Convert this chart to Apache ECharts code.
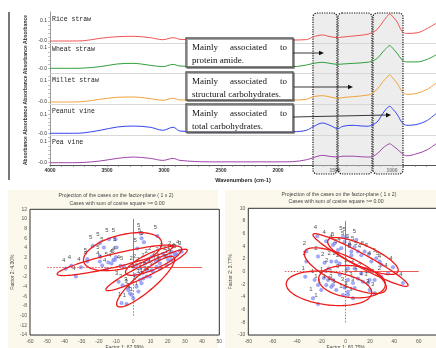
<!DOCTYPE html>
<html><head><meta charset="utf-8">
<script src="https://cdn.jsdelivr.net/npm/echarts@6/dist/echarts.min.js"></script>
<style>html,body{margin:0;padding:0;background:#fff}#c{width:436px;height:348px}</style>
</head><body><div id="c"></div>
<script>
// ---------- FTIR spectra ----------
const wavenumbers = [4000,3800,3710,3560,3410,3270,3120,3010,2920,2860,2600,2000,1870,1750,1690,1610,1545,1475,1430,1340,1280,1220,1190,1130,1080,1050,1020,990,955,910,870,780,690,614];
const rice   = [0,0,0.001,0.0135,0.0215,0.0235,0.0165,0.0065,0.0165,0.0085,0.005,0.005,0.005,0.007,0.021,0.03,0.022,0.017,0.02,0.025,0.028,0.033,0.038,0.058,0.096,0.118,0.135,0.12,0.095,0.047,0.038,0.041,0.063,0.088];
const wheat  = [0,0,0.001,0.008,0.021,0.024,0.0145,0.008,0.019,0.011,0.008,0.008,0.008,0.016,0.024,0.029,0.024,0.019,0.021,0.024,0.026,0.029,0.032,0.048,0.08,0.097,0.11,0.095,0.073,0.04,0.031,0.031,0.044,0.065];
const millet = [0,0,0.002,0.0127,0.022,0.0235,0.0155,0.008,0.0174,0.0094,0.0094,0.0094,0.0094,0.0127,0.025,0.0296,0.024,0.0174,0.021,0.025,0.028,0.032,0.036,0.06,0.095,0.112,0.127,0.11,0.088,0.048,0.036,0.041,0.06,0.088];
const peanut = [0,0,0.002,0.0158,0.033,0.038,0.0316,0.0158,0.0316,0.012,0.0068,0.0068,0.008,0.0158,0.035,0.054,0.042,0.0247,0.037,0.042,0.039,0.037,0.04,0.06,0.105,0.128,0.142,0.125,0.1,0.055,0.042,0.047,0.068,0.104];
const pea    = [0,0,0.001,0.008,0.0205,0.027,0.0205,0.011,0.0205,0.011,0.004,0.004,0.005,0.014,0.024,0.035,0.03,0.027,0.031,0.031,0.0286,0.027,0.027,0.043,0.07,0.082,0.09,0.08,0.065,0.043,0.033,0.043,0.062,0.09];
const sampleNames = ['Rice straw','Wheat straw','Millet straw','Peanut vine','Pea vine'];
const spectraColors = ['#f05454','#2f9e3a','#f2a23a','#3444f0','#a045a8'];
const wavenumberTicks = [4000,3500,3000,2500,2000,1500,1000];
const absorbanceTicks = [0, 0.1];
const notes = [['Mainly','associated','to','protein amide.'],['Mainly','associated','to','structural carbohydrates.'],['Mainly','associated','to','total carbohydrates.']];

// ---------- PCA scatter (left) ----------
const left1 = [[-6.8,-7.4],[-3.9,-7.6],[0,-6.4],[-1,-5.7],[1.9,-4],[4.8,-3.3],[5.8,-2.3],[9.7,-1.9],[10.7,-0.6],[13.6,0.1],[15.5,0.8],[20.3,1.5],[21.7,2.3],[3,-5]];
const left2 = [[0,0.1],[1.9,0.5],[3.9,-0.2],[6.8,0.8],[8.7,1.5],[10.7,2.2],[13.2,1.2],[15.1,1.9],[17.4,2.8],[19.4,2.2],[22.3,3.2],[24.2,2.6],[7.8,-0.6],[5.4,-1.2]];
const left3 = [[-8.5,-3.0],[-6.2,-3.7],[-3.1,-4.3],[-1.9,-5.4],[-2.9,-4.7],[3.9,-2.6],[7.8,-1.9],[11.6,-0.9],[15.5,-0.2],[19.4,0.5],[22.3,1.5],[25.2,2.6],[28.1,3.2],[1,-1.6]];
const left4 = [[-39.3,-0.3],[-36,0.3],[-33.3,-1.9],[-30.4,0],[-26.7,1.2],[-19.4,1.2],[-18,0.4],[-15.5,-0.4],[-12.6,0.8],[-11.6,1.5],[-10.1,2.1],[-7.4,0.3],[27,3.4],[24.5,2.8]];
const left5 = [[-23.6,4.4],[-19.4,5.0],[-17.1,4.1],[-14.1,5.8],[-10.3,5.8],[-9.7,4.1],[4.3,7.0],[4.8,6.0],[6.2,5.2],[14,6.5],[2.3,3.9],[-19.4,2.3],[-26.7,1.7],[-14.5,1.0],[-10.7,1.5],[-5.5,0.2]];
// ellipse: [cx, cy, ax, ay, bx, by]
const leftEllipses = [[-6.2,3.24,22.6,2.07,-2.42,3.34],[-10.5,1.45,33.7,2.86,-0.9,1.34],[7.75,-0.55,23.6,4.14,-1.5,1.11],[7.2,-2.97,16.5,5.03,-3.53,1.47],[11.8,1.38,16.2,2.59,-1.99,1.57]];
const leftCross = [-50, 40, -10, 10];

// ---------- PCA scatter (right) ----------
const right1 = [[-33.2,-0.8],[-25.5,-1.3],[-22.7,-2.1],[-20,-2.9],[-26.8,-4.2],[-22.7,-5.1],[-15.9,-2.1],[-11.8,-2.4],[-7.7,-2.9],[-2.2,-3.7],[1.9,-3.7],[-10.4,-1.3],[-18,-1]];
const right2 = [[-32.3,3.2],[-32.3,1.6],[-22.7,2.4],[-17.3,1.4],[-11.8,1.6],[-7.7,1.6],[-4.9,1.3],[1.9,0.5],[7.4,0.5],[12.9,-0.3],[19.7,-1.3],[23.8,-1.3],[29.3,-0.8],[-14,0.5]];
const right3 = [[-14.5,-1.3],[-10.4,-2.1],[-4.9,-0.5],[1.9,-1.3],[6,-1.8],[7.4,-2.6],[10.1,-1.1],[14.2,-1.6],[19.7,-2.9],[23.8,-3.4],[6,-4.2],[1.9,-3.2],[18.4,-1.8],[-1,-2.5]];
const right4 = [[-23.3,5.6],[-10.4,4.2],[-3.6,3.7],[4.7,3.2],[12.9,2.6],[21.1,1.6],[29.3,1.1],[38.9,0.7],[47.1,-1.8],[34.8,-0.3],[-16,4.8]];
const right5 = [[-2.2,5.5],[0.5,5.3],[-0.8,4.7],[3.3,4.2],[7.4,3.9],[10.1,3.2],[15.6,3.2],[25.2,2.1],[27.9,1.6],[8.8,5.0],[-9,4.5],[-6.3,3.4],[4.7,2.6],[19,2.8]];
const rightEllipses = [[12.2,1.84,39,-4.05,2.6,0.93],[14.2,2.47,28.8,-2.47,3.59,1.54],[-0.27,0.16,33.4,-3.0,4.87,2.0],[-13.7,-2.63,35.1,-0.79,1.59,2.61],[5.2,-1.58,27.4,-0.53,1.3,2.5]];
const rightCross = [-50, 60, -8, 8];

const pcaTitle1 = 'Projection of the cases on the factor-plane ( 1 x 2)';
const pcaTitle2 = 'Cases with sum of cosine square >= 0.00';
const leftAxisNames = ['Factor 1: 67.99%', 'Factor 2: 4.30%'];
const rightAxisNames = ['Factor 1: 60.75%', 'Factor 2: 3.77%'];

// ---------- layout ----------
const spectraSeries = [rice, wheat, millet, peanut, pea];
const panelGrids = [
  {top:12, height:31, min:-0.01, max:0.145, nameY:19},
  {top:43, height:30, min:-0.0228, max:0.1228, nameY:49},
  {top:73, height:31, min:-0.0094, max:0.136, nameY:80},
  {top:104, height:31, min:-0.009, max:0.154, nameY:111},
  {top:135, height:30, min:-0.011, max:0.132, nameY:142}
];

const grid = [], xAxis = [], yAxis = [], series = [];
panelGrids.forEach((p, i) => {
  const last = i === panelGrids.length - 1;
  grid.push({left:50, right:0, top:p.top, height:p.height, containLabel:false, outerBoundsMode:'none'});
  xAxis.push({
    gridIndex:i, type:'value', inverse:true, min:614, max:4000,
    axisLine:{show:true, onZero:false, lineStyle:{color: last ? '#555' : '#d8d8d8', width:1}},
    axisTick:{show:last, customValues:[4000,3900,3800,3700,3600,3500,3400,3300,3200,3100,3000,2900,2800,2700,2600,2500,2400,2300,2200,2100,2000,1900,1800,1700,1600,1500,1400,1300,1200,1100,1000,900,800,700], length:2, lineStyle:{color:'#666', width:0.6}},
    axisLabel:{show:last, customValues:wavenumberTicks, fontSize:5, color:'#333', margin:3, fontWeight:'bold', formatter: v => String(v)},
    splitLine:{show:false},
    name: last ? 'Wavenumbers (cm-1)' : '', nameLocation:'middle', nameGap:12,
    nameTextStyle:{fontSize:5.5, color:'#222', fontWeight:'bold'}
  });
  yAxis.push({
    gridIndex:i, type:'value', min:p.min, max:p.max,
    axisLine:{show:true, lineStyle:{color:'#999', width:1}},
    axisTick:{show:true, customValues:[0,0.02,0.04,0.06,0.08,0.1,0.12], length:2, lineStyle:{color:'#999', width:0.6}},
    axisLabel:{customValues:absorbanceTicks, fontSize:5, color:'#333', margin:3,
      formatter: v => (Math.abs(v) < 1e-9 ? '-0.0' : v.toFixed(1))},
    splitLine:{show:false}
  });
  series.push({
    type:'line', xAxisIndex:i, yAxisIndex:i, name:sampleNames[i],
    data: wavenumbers.map((w, k) => [w, spectraSeries[i][k]]),
    showSymbol:false, smooth:0.35, lineStyle:{color:spectraColors[i], width:1}, z:2, silent:true
  });
});

// scatter grids
function pcaAxes(gi, xr, yr, names) {
  grid.push(Object.assign({show:true, backgroundColor:'#ffffff', borderColor:'#333', borderWidth:1, z:1, containLabel:false, outerBoundsMode:'none'}, gi));
  const idx = grid.length - 1;
  xAxis.push({gridIndex:idx, type:'value', min:xr[0], max:xr[1], interval:xr[2],
    axisLine:{show:false}, axisTick:{show:false},
    axisLabel:{fontSize:5, color:'#555', margin:4},
    splitLine:{show:true, lineStyle:{color:'#aaa', type:[1,2], width:0.6}},
    name:names[0], nameLocation:'middle', nameGap:10, nameTextStyle:{fontSize:5, color:'#444'}});
  yAxis.push({gridIndex:idx, type:'value', min:yr[0], max:yr[1], interval:yr[2],
    axisLine:{show:false}, axisTick:{show:false},
    axisLabel:{fontSize:5, color:'#555', margin:3},
    splitLine:{show:true, lineStyle:{color:'#aaa', type:[1,2], width:0.6}},
    name:names[1], nameLocation:'middle', nameGap:15, nameTextStyle:{fontSize:5, color:'#444'}});
  return idx;
}
const li = pcaAxes({left:30, width:189.3, top:209.3, height:125.7}, [-60,50,10], [-14,12,2], leftAxisNames);
const ri = pcaAxes({left:248.3, width:194.7, top:208.3, height:126.7}, [-80,80,20], [-10,10,2], rightAxisNames);

function renderEllipse(params, api) {
  const cx = api.value(0), cy = api.value(1), ax = api.value(2), ay = api.value(3), bx = api.value(4), by = api.value(5);
  const pts = [];
  for (let i = 0; i < 90; i++) {
    const t = i / 90 * Math.PI * 2;
    pts.push(api.coord([cx + ax*Math.cos(t) + bx*Math.sin(t), cy + ay*Math.cos(t) + by*Math.sin(t)]));
  }
  return {type:'polygon', shape:{points:pts}, style:{fill:'transparent', stroke:'#ee1b1b', lineWidth:1.3}};
}
function crossLines(c) {
  const red = '#e83030';
  return {silent:true, symbol:['none','none'], label:{show:false}, animation:false,
    data:[
      [{coord:[c[0],0], lineStyle:{type:[1.5,1.5], color:red, width:0.8}},{coord:[0,0]}],
      [{coord:[0,0], lineStyle:{type:'solid', color:red, width:0.8}},{coord:[c[1],0]}],
      [{coord:[0,c[2]], lineStyle:{type:[1.5,1.5], color:red, width:0.8}},{coord:[0,0]}],
      [{coord:[0,0], lineStyle:{type:'solid', color:red, width:0.8}},{coord:[0,c[3]]}]
    ]};
}
function addPca(idx, groups, ellipses, cross) {
  groups.forEach((g, k) => {
    const s = {type:'scatter', xAxisIndex:idx, yAxisIndex:idx, data:g, symbolSize:3.5, z:2, silent:true,
      itemStyle:{color:'#8e98f7', borderColor:'#5566e6', borderWidth:0.4},
      label:{show:true, formatter:String(k+1), position:'top', offset:[-2,1.5], fontSize:6, color:'#222'}};
    if (k === 0) s.markLine = crossLines(cross);
    series.push(s);
  });
  series.push({type:'custom', xAxisIndex:idx, yAxisIndex:idx, data:ellipses, renderItem:renderEllipse, encode:{x:0, y:1}, z:3, silent:true});
}
addPca(li, [left1,left2,left3,left4,left5], leftEllipses, leftCross);
addPca(ri, [right1,right2,right3,right4,right5], rightEllipses, rightCross);

// ---------- decorations ----------
const serif = '"Liberation Serif", "Times New Roman", serif';
function txt(x, y, text, font, fill, align, extra) {
  return Object.assign({type:'text', x:x, y:y, z:60, silent:true,
    style:{text:text, font:font, fill:fill || '#111', align:align || 'left', textAlign:align || 'left', verticalAlign:'middle', textVerticalAlign:'middle'}}, extra || {});
}
const graphic = [];
graphic.push({type:'rect', z:-5, shape:{x:8, y:190, width:210, height:158}, style:{fill:'#fcf9ec'}, silent:true});
graphic.push({type:'rect', z:-5, shape:{x:225, y:190, width:211, height:158}, style:{fill:'#fcf9ec'}, silent:true});
graphic.push({type:'rect', z:5, shape:{x:8, y:12, width:2, height:168}, style:{fill:'#777'}, silent:true});
// dotted region boxes
[[313,24],[338,34],[373,30]].forEach(b => {
  graphic.push({type:'rect', z:1, shape:{x:b[0], y:13, width:b[1], height:161, r:4},
    style:{fill:'rgba(215,215,215,0.45)', stroke:'#111', lineWidth:1.2, lineDash:[1.2,1.2]}, silent:true});
});
// note boxes
const boxTops = [38, 72, 104];
const boxHeights = [29, 28, 28];
const arrows = [[293,53,324,53],[294,87,353,87],[293,117,391,115]];
boxTops.forEach((t, i) => {
  graphic.push({type:'rect', z:50, shape:{x:186, y:t, width:107, height:boxHeights[i]},
    style:{fill:'#fff', stroke:'#5a5a5a', lineWidth:1.4, shadowColor:'rgba(0,0,0,0.35)', shadowOffsetX:1.2, shadowOffsetY:1.2, shadowBlur:0}, silent:true});
  const l1 = t + 10, l2 = t + 22.5;
  graphic.push(txt(192, l1, notes[i][0], '9px ' + serif, '#111', 'left'));
  graphic.push(txt(248.5, l1, notes[i][1], '9px ' + serif, '#111', 'center'));
  graphic.push(txt(287, l1, notes[i][2], '9px ' + serif, '#111', 'right'));
  graphic.push(txt(192, l2, notes[i][3], '9px ' + serif, '#111', 'left'));
  const a = arrows[i];
  graphic.push({type:'line', z:61, shape:{x1:a[0], y1:a[1], x2:a[2]-4, y2:a[3]}, style:{stroke:'#222', lineWidth:0.9}, silent:true});
  const ang = Math.atan2(a[3]-a[1], a[2]-a[0]);
  const p = (d, s) => [a[2] - d*Math.cos(ang) - s*Math.sin(ang), a[3] - d*Math.sin(ang) + s*Math.cos(ang)];
  graphic.push({type:'polygon', z:61, shape:{points:[[a[2],a[3]], p(5,2.3), p(5,-2.3)]}, style:{fill:'#111'}, silent:true});
});
// sample names
sampleNames.forEach((n, i) => graphic.push(txt(52, panelGrids[i].nameY, n, '6.5px "Liberation Mono", monospace', '#222', 'left')));
// y axis name
graphic.push(txt(26, 90, 'Absorbance Absorbance Absorbance Absorbance Absorbance', 'bold 5px "Liberation Sans", sans-serif', '#333', 'center', {rotation:Math.PI/2}));
// pca titles
const tf = '5.2px "Liberation Sans", sans-serif';
graphic.push(txt(116, 196, pcaTitle1, tf, '#444', 'center'));
graphic.push(txt(117, 203.5, pcaTitle2, tf, '#444', 'center'));
graphic.push(txt(339, 195, pcaTitle1, tf, '#444', 'center'));
graphic.push(txt(336, 202, pcaTitle2, tf, '#444', 'center'));

const chart = echarts.init(document.getElementById('c'), null, {renderer:'canvas'});
chart.setOption({
  animation:false,
  backgroundColor:'#ffffff',
  textStyle:{fontFamily:'"Liberation Sans", Arial, sans-serif'},
  grid, xAxis, yAxis, series, graphic
});
</script></body></html>
